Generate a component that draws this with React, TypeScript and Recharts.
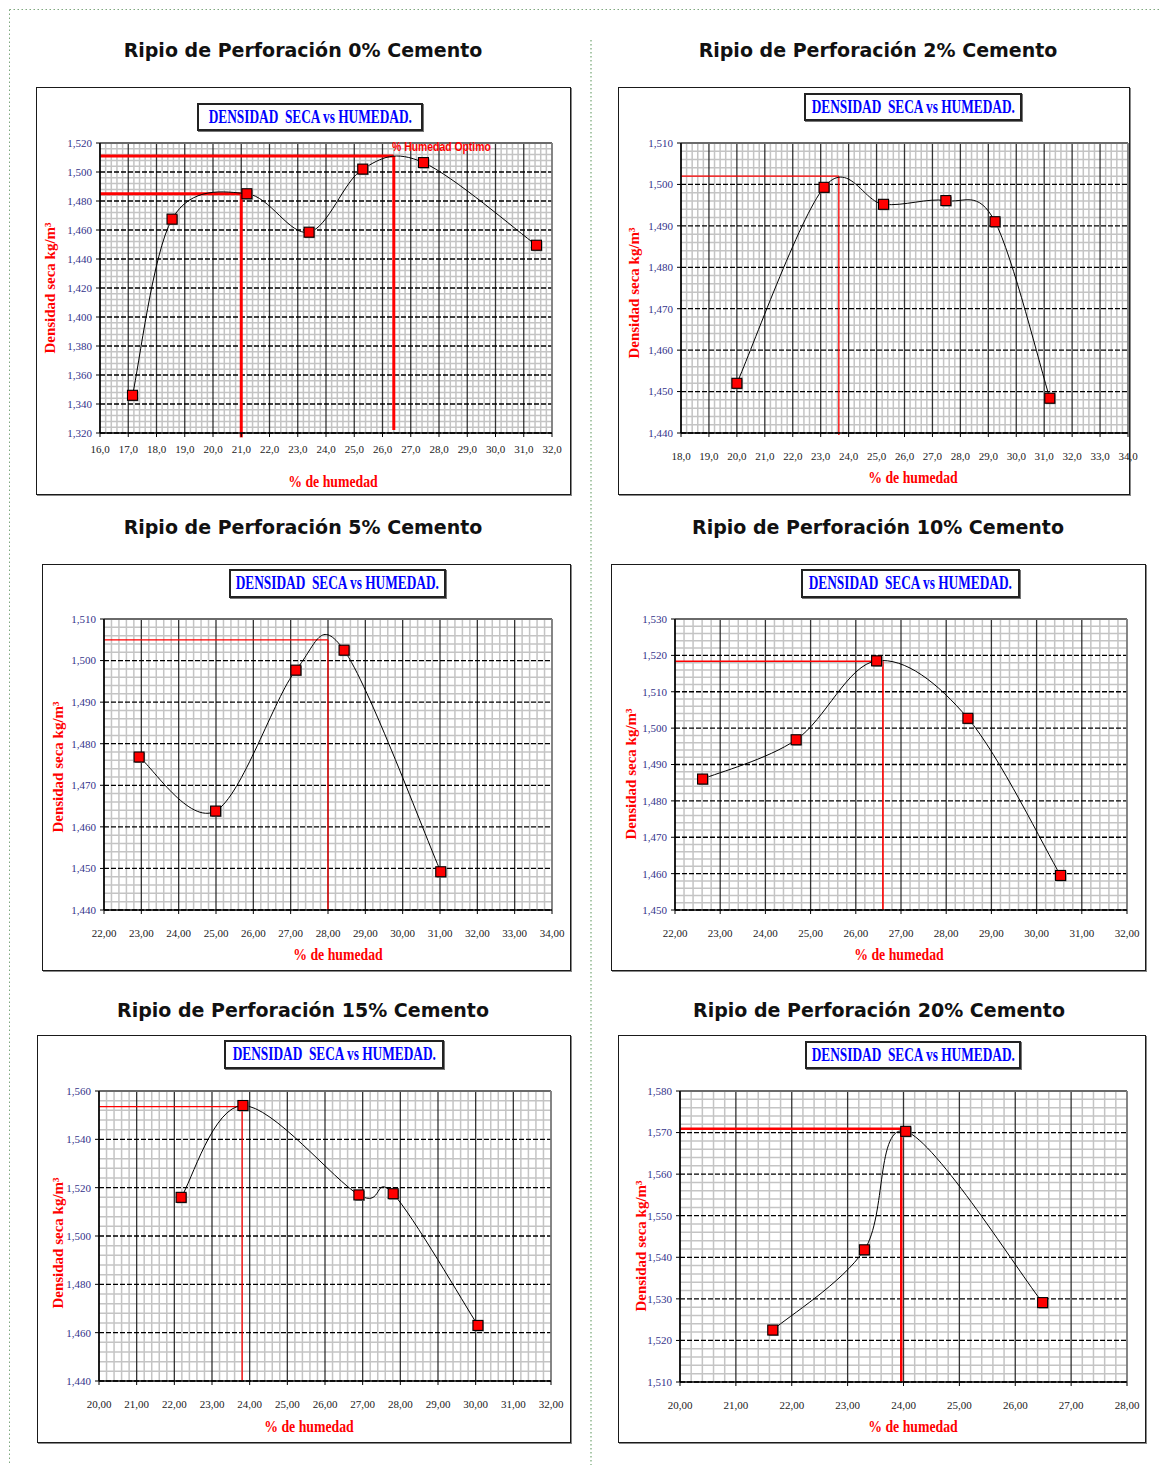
import React from "react";
import { ComposedChart, Line, XAxis, YAxis, ReferenceLine } from "recharts";

const titulos = [
  "Ripio de Perforación 0% Cemento",
  "Ripio de Perforación 2% Cemento",
  "Ripio de Perforación 5% Cemento",
  "Ripio de Perforación 10% Cemento",
  "Ripio de Perforación 15% Cemento",
  "Ripio de Perforación 20% Cemento",
];

// 0% cemento
const humedad0 = [17.15, 18.55, 21.2, 23.4, 25.3, 27.45, 31.45];
const densidad0 = [1346, 1467.5, 1485, 1458.5, 1502, 1506.5, 1449.5];
const optX0 = [26.4, 21.0];
const optY0 = [1511, 1485];
const finY0 = [1322, 1317];
const ticksX0 = [16, 17, 18, 19, 20, 21, 22, 23, 24, 25, 26, 27, 28, 29, 30, 31, 32];
const ticksY0 = [1320, 1340, 1360, 1380, 1400, 1420, 1440, 1460, 1480, 1500, 1520];

// 2% cemento
const humedad2 = [20.0, 23.12, 25.25, 27.48, 29.24, 31.2];
const densidad2 = [1452, 1499.3, 1495.2, 1496.1, 1491, 1448.4];
const optX2 = [23.65];
const optY2 = [1502];
const finY2 = [1439.5];
const ticksX2 = [18, 19, 20, 21, 22, 23, 24, 25, 26, 27, 28, 29, 30, 31, 32, 33, 34];
const ticksY2 = [1440, 1450, 1460, 1470, 1480, 1490, 1500, 1510];

// 5% cemento
const humedad5 = [22.94, 24.99, 27.14, 28.43, 31.02];
const densidad5 = [1476.8, 1463.8, 1497.7, 1502.5, 1449.2];
const optX5 = [28.0];
const optY5 = [1505];
const finY5 = [1440];
const ticksX5 = [22, 23, 24, 25, 26, 27, 28, 29, 30, 31, 32, 33, 34];
const ticksY5 = [1440, 1450, 1460, 1470, 1480, 1490, 1500, 1510];

// 10% cemento
const humedad10 = [22.61, 24.68, 26.46, 28.48, 30.53];
const densidad10 = [1486, 1496.8, 1518.5, 1502.7, 1459.5];
const optX10 = [26.6];
const optY10 = [1518.4];
const finY10 = [1450];
const ticksX10 = [22, 23, 24, 25, 26, 27, 28, 29, 30, 31, 32];
const ticksY10 = [1450, 1460, 1470, 1480, 1490, 1500, 1510, 1520, 1530];

// 15% cemento
const humedad15 = [22.18, 23.82, 26.9, 27.81, 30.06];
const densidad15 = [1516, 1554, 1517, 1517.5, 1463];
const optX15 = [23.8];
const optY15 = [1553.5];
const finY15 = [1440];
const ticksX15 = [20, 21, 22, 23, 24, 25, 26, 27, 28, 29, 30, 31, 32];
const ticksY15 = [1440, 1460, 1480, 1500, 1520, 1540, 1560];

// 20% cemento
const humedad20 = [21.66, 23.3, 24.04, 26.49];
const densidad20 = [1522.5, 1541.8, 1570.3, 1529.1];
const optX20 = [23.96];
const optY20 = [1570.9];
const finY20 = [1510];
const ticksX20 = [20, 21, 22, 23, 24, 25, 26, 27, 28];
const ticksY20 = [1510, 1520, 1530, 1540, 1550, 1560, 1570, 1580];

const paneles = [
  { humedad: humedad0, densidad: densidad0, optX: optX0, optY: optY0, finY: finY0, ticksX: ticksX0, ticksY: ticksY0, dec: 1 },
  { humedad: humedad2, densidad: densidad2, optX: optX2, optY: optY2, finY: finY2, ticksX: ticksX2, ticksY: ticksY2, dec: 1 },
  { humedad: humedad5, densidad: densidad5, optX: optX5, optY: optY5, finY: finY5, ticksX: ticksX5, ticksY: ticksY5, dec: 2 },
  { humedad: humedad10, densidad: densidad10, optX: optX10, optY: optY10, finY: finY10, ticksX: ticksX10, ticksY: ticksY10, dec: 2 },
  { humedad: humedad15, densidad: densidad15, optX: optX15, optY: optY15, finY: finY15, ticksX: ticksX15, ticksY: ticksY15, dec: 2 },
  { humedad: humedad20, densidad: densidad20, optX: optX20, optY: optY20, finY: finY20, ticksX: ticksX20, ticksY: ticksY20, dec: 2 },
];

// page positions: box [x, y, w, h], plot [left, top, right, bottom]
const disposicion = [
  { caja: [36, 87, 535, 408], area: [100, 143, 552, 433], tit: [303, 50], banner: [197, 103, 226, 28], etqY: [50, 288], etqX: [333, 482], mt: 8, ref: 3 },
  { caja: [618, 87, 512, 408], area: [681, 143, 1128, 433], tit: [878, 50], banner: [804, 93, 218, 28], etqY: [634, 293], etqX: [913, 478], mt: 15, ref: 1.3 },
  { caja: [42, 564, 529, 407], area: [104, 619, 552, 910], tit: [303, 527], banner: [229, 569, 217, 29], etqY: [58, 767], etqX: [338, 955], mt: 15, ref: 1.3 },
  { caja: [611, 564, 535, 407], area: [675, 619, 1127, 910], tit: [878, 527], banner: [801, 569, 219, 29], etqY: [631, 774], etqX: [899, 955], mt: 15, ref: 1.6 },
  { caja: [37, 1035, 534, 408], area: [99, 1091, 551, 1381], tit: [303, 1010], banner: [224, 1040, 220, 29], etqY: [58, 1243], etqX: [309, 1427], mt: 15, ref: 1.3 },
  { caja: [618, 1035, 528, 408], area: [680, 1091, 1127, 1382], tit: [879, 1010], banner: [805, 1041, 216, 28], etqY: [641, 1246], etqX: [913, 1427], mt: 15, ref: 2.5 },
];

const YW = 40;
const XH = 30;
const EXTRA = 14; // room so the last x tick label is not clipped

// minor grid values between major ticks (5 divisions, as in Excel)
const subdividir = (t: number[], n = 5) =>
  t.slice(0, -1).flatMap((v, i) => Array.from({ length: n - 1 }, (_, k) => v + ((t[i + 1] - v) * (k + 1)) / n));

// Excel-like smoothed line (Catmull-Rom as cubic Bezier)
const suavizado = (ctx: any) => {
  let pts: number[][] = [];
  return {
    areaStart() {},
    areaEnd() {},
    lineStart() {
      pts = [];
    },
    point(x: number, y: number) {
      pts.push([+x, +y]);
    },
    lineEnd() {
      const n = pts.length;
      if (!n) return;
      ctx.moveTo(pts[0][0], pts[0][1]);
      for (let i = 0; i < n - 1; i++) {
        const p0 = pts[Math.max(i - 1, 0)];
        const p1 = pts[i];
        const p2 = pts[i + 1];
        const p3 = pts[Math.min(i + 2, n - 1)];
        ctx.bezierCurveTo(
          p1[0] + (p2[0] - p0[0]) / 6,
          p1[1] + (p2[1] - p0[1]) / 6,
          p2[0] - (p3[0] - p1[0]) / 6,
          p2[1] - (p3[1] - p1[1]) / 6,
          p2[0],
          p2[1]
        );
      }
    },
  };
};

const Cuadro = (props: any) => {
  const { cx, cy, index } = props;
  if (cx == null || cy == null) return <g key={index} />;
  return (
    <g key={index}>
      <rect x={cx - 4} y={cy - 4} width={10} height={10} fill="#8a8a8a" />
      <rect x={cx - 5} y={cy - 5} width={10} height={10} fill="#ff0000" stroke="#000" strokeWidth={1.1} />
    </g>
  );
};

const fmtY = (v: number) => `${Math.floor(v / 1000)},${String(v % 1000).padStart(3, "0")}`;

function Grafico({ idx }: { idx: number }) {
  const p = paneles[idx];
  const d = disposicion[idx];
  const [bx, by, bw, bh] = d.caja;
  const [pl, pt, pr, pb] = d.area;
  const data = p.humedad.map((x, i) => ({ x, y: p.densidad[i] }));
  const xMin = p.ticksX[0];
  const xMax = p.ticksX[p.ticksX.length - 1];
  const yMin = p.ticksY[0];
  const yMax = p.ticksY[p.ticksY.length - 1];
  const menorX = subdividir(p.ticksX);
  const menorY = subdividir(p.ticksY);
  const margin = { top: pt - by, left: pl - bx - YW, right: bx + bw + EXTRA - pr, bottom: by + bh - pb - XH };

  return (
    <>
      <div
        style={{
          position: "absolute",
          left: d.tit[0] - 300,
          top: d.tit[1] - 14,
          width: 600,
          textAlign: "center",
          fontFamily: "DejaVu Sans",
          fontWeight: "bold",
          fontSize: 19,
          lineHeight: "28px",
          color: "#111",
        }}
      >
        {titulos[idx]}
      </div>
      <div
        style={{
          position: "absolute",
          left: bx,
          top: by,
          width: bw,
          height: bh,
          border: "1.5px solid #1a1a1a",
          boxShadow: "1px 1px 0 #888",
          boxSizing: "border-box",
          background: "#fff",
        }}
      />
      <div style={{ position: "absolute", left: bx, top: by }}>
        <ComposedChart width={bw + EXTRA} height={bh} data={data} margin={margin}>
          {menorX.map((v) => (
            <ReferenceLine key={`mx${v}`} x={v} stroke="#c4c4c4" strokeWidth={1.5} />
          ))}
          {menorY.map((v) => (
            <ReferenceLine key={`my${v}`} y={v} stroke="#c4c4c4" strokeWidth={1.5} />
          ))}
          {p.ticksX.map((v) => (
            <ReferenceLine key={`gx${v}`} x={v} stroke="#333" strokeWidth={1.3} />
          ))}
          {p.ticksY.map((v) => (
            <ReferenceLine key={`gy${v}`} y={v} stroke="#000" strokeWidth={1.3} strokeDasharray="5 2" />
          ))}
          <ReferenceLine y={yMax} stroke="#6a6a6a" strokeWidth={2} />
          <ReferenceLine x={xMax} stroke="#8a8a8a" strokeWidth={1.5} />
          <XAxis
            type="number"
            dataKey="x"
            domain={[xMin, xMax]}
            ticks={p.ticksX}
            interval={0}
            allowDataOverflow
            height={XH}
            tickSize={4}
            tickMargin={d.mt}
            tickFormatter={(v: number) => v.toFixed(p.dec).replace(".", ",")}
            tick={{ fill: "#222", fontSize: 11, fontFamily: "Liberation Serif" }}
            tickLine={{ stroke: "#000" }}
            axisLine={{ stroke: "#000", strokeWidth: 1.5 }}
          />
          <YAxis
            type="number"
            domain={[yMin, yMax]}
            ticks={p.ticksY}
            interval={0}
            allowDataOverflow
            width={YW}
            tickSize={4}
            tickMargin={4}
            tickFormatter={fmtY}
            tick={{ fill: "#33338a", fontSize: 11, fontFamily: "Liberation Serif" }}
            tickLine={{ stroke: "#000" }}
            axisLine={{ stroke: "#000", strokeWidth: 1.5 }}
          />
          {p.optX.map((ox, i) => (
            <ReferenceLine
              key={`h${i}`}
              segment={[
                { x: xMin, y: p.optY[i] },
                { x: ox, y: p.optY[i] },
              ]}
              stroke="#ff0000"
              strokeWidth={d.ref}
              ifOverflow="visible"
            />
          ))}
          {p.optX.map((ox, i) => (
            <ReferenceLine
              key={`v${i}`}
              segment={[
                { x: ox, y: p.optY[i] },
                { x: ox, y: p.finY[i] },
              ]}
              stroke="#ff0000"
              strokeWidth={d.ref}
              ifOverflow="visible"
            />
          ))}
          <Line
            type={suavizado as any}
            dataKey="y"
            stroke="#000"
            strokeWidth={1}
            dot={Cuadro}
            activeDot={false}
            isAnimationActive={false}
          />
        </ComposedChart>
      </div>
      <div
        style={{
          position: "absolute",
          left: d.banner[0],
          top: d.banner[1],
          width: d.banner[2],
          height: d.banner[3],
          border: "2px solid #222",
          boxShadow: "1px 1px 0 #777",
          boxSizing: "border-box",
          background: "#fff",
          display: "flex",
          alignItems: "center",
          justifyContent: "center",
        }}
      >
        <span
          style={{
            display: "inline-block",
            whiteSpace: "pre",
            color: "#0000ff",
            fontFamily: "Liberation Serif",
            fontWeight: "bold",
            fontSize: 18,
            transform: "scaleX(0.74)",
          }}
        >
          {"DENSIDAD  SECA vs HUMEDAD."}
        </span>
      </div>
      <div
        style={{
          position: "absolute",
          left: d.etqY[0],
          top: d.etqY[1],
          transform: "translate(-50%, -50%) rotate(-90deg)",
          whiteSpace: "nowrap",
          color: "#ff0000",
          fontFamily: "Liberation Serif",
          fontWeight: "bold",
          fontSize: 15,
        }}
      >
        Densidad seca kg/m³
      </div>
      <div
        style={{
          position: "absolute",
          left: d.etqX[0],
          top: d.etqX[1],
          transform: "translate(-50%, -50%) scaleX(0.86)",
          whiteSpace: "nowrap",
          color: "#ff0000",
          fontFamily: "Liberation Serif",
          fontWeight: "bold",
          fontSize: 16,
        }}
      >
        % de humedad
      </div>
    </>
  );
}

export default function App() {
  return (
    <div style={{ position: "absolute", left: 0, top: 0, width: 1163, height: 1465, background: "#fff", overflow: "hidden" }}>
      <svg width={1163} height={1465} style={{ position: "absolute", left: 0, top: 0 }}>
        <line x1={9.5} y1={9.5} x2={1160} y2={9.5} stroke="#7fa87f" strokeWidth={1} strokeDasharray="1.5 2.5" />
        <line x1={9.5} y1={9.5} x2={9.5} y2={1465} stroke="#7fa87f" strokeWidth={1} strokeDasharray="1.5 2.5" />
        <line x1={591} y1={40} x2={591} y2={1465} stroke="#8fb88f" strokeWidth={1.5} strokeDasharray="1.5 2.5" />
      </svg>
      {paneles.map((_, i) => (
        <Grafico key={i} idx={i} />
      ))}
      <div
        style={{
          position: "absolute",
          left: 392,
          top: 139,
          color: "#ff0000",
          fontFamily: "Liberation Sans",
          fontWeight: "bold",
          fontSize: 13,
          whiteSpace: "nowrap",
          transform: "scaleX(0.8)",
          transformOrigin: "left center",
        }}
      >
        % Humedad Optimo
      </div>
    </div>
  );
}
